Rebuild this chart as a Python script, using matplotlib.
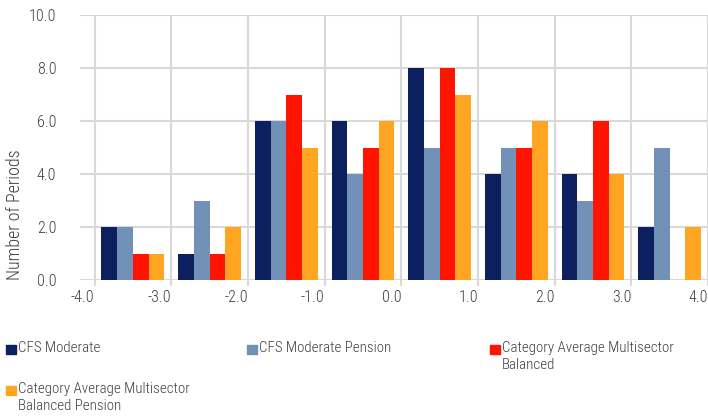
import matplotlib
matplotlib.use('Agg')
import matplotlib.pyplot as plt
from matplotlib.patches import Rectangle
import numpy as np

# bin edges (-4 .. 4) and counts per bin for each fund
edges = [-4.0, -3.0, -2.0, -1.0, 0.0, 1.0, 2.0, 3.0, 4.0]
series_names = ['CFS Moderate', 'CFS Moderate Pension',
                'Category Average Multisector\nBalanced',
                'Category Average Multisector\nBalanced Pension']
cfs_moderate = [2, 1, 6, 6, 8, 4, 4, 2]
cfs_moderate_pension = [2, 3, 6, 4, 5, 5, 3, 5]
cat_avg_balanced = [1, 1, 7, 5, 8, 5, 6, 0]
cat_avg_balanced_pension = [1, 2, 5, 6, 7, 6, 4, 2]
colors = ['#0C1F5E', '#7390B6', '#FF1400', '#FFA521']

plt.rcParams['font.family'] = ['Roboto Condensed', 'DejaVu Sans']
plt.rcParams['font.weight'] = 'light'
text_col = '#404040'
grid_col = '#D9D9D9'

W, H = 708, 420
fig = plt.figure(figsize=(W / 100, H / 100), dpi=100)
ax = fig.add_axes([80 / W, 1 - 280 / H, 1 - 80 / W, (280 - 15) / H])

centers = np.array(edges[:-1]) + 0.5
bw = 0.205
all_series = [cfs_moderate, cfs_moderate_pension, cat_avg_balanced, cat_avg_balanced_pension]
for i, vals in enumerate(all_series):
    ax.bar(centers + (i - 1.5) * bw, vals, width=bw, color=colors[i], zorder=3)

ax.set_xlim(-4.19, 3.95)
ax.set_ylim(0, 10)
ax.set_yticks(np.arange(0, 11, 2))
ax.set_yticklabels(['%.1f' % v for v in np.arange(0, 11, 2)])
ax.set_xticks(edges)
ax.set_xticklabels(['%.1f' % v for v in edges], ha='right')

ax.grid(True, color=grid_col, linewidth=1.5, zorder=0)
ax.set_axisbelow(True)
for s in ax.spines.values():
    s.set_visible(False)
ax.tick_params(axis='y', length=0, pad=17, labelsize=11.5, labelcolor=text_col)
ax.tick_params(axis='x', length=4, width=1.5, color=grid_col, pad=3,
               labelsize=11.5, labelcolor=text_col)
for lab in ax.get_xticklabels():
    lab.set_clip_on(False)

fig.text(15 / W, 1 - 215 / H, 'Number of Periods', rotation=90, ha='center',
         va='center', fontsize=13, color=text_col)

# legend, drawn by hand to keep Excel's column positions
leg_pos = [(6, 349), (247, 349), (490, 349), (6, 390)]
for (x, y), name, c in zip(leg_pos, series_names, colors):
    fig.patches.append(Rectangle((x / W, 1 - (y + 4.5) / H), 10 / W, 9 / H,
                                 transform=fig.transFigure, color=c))
    fig.text((x + 12) / W, 1 - (y - 8) / H, name, ha='left', va='top',
             fontsize=10.8, color=text_col, linespacing=1.3)

fig.savefig('out.png', dpi=100)
